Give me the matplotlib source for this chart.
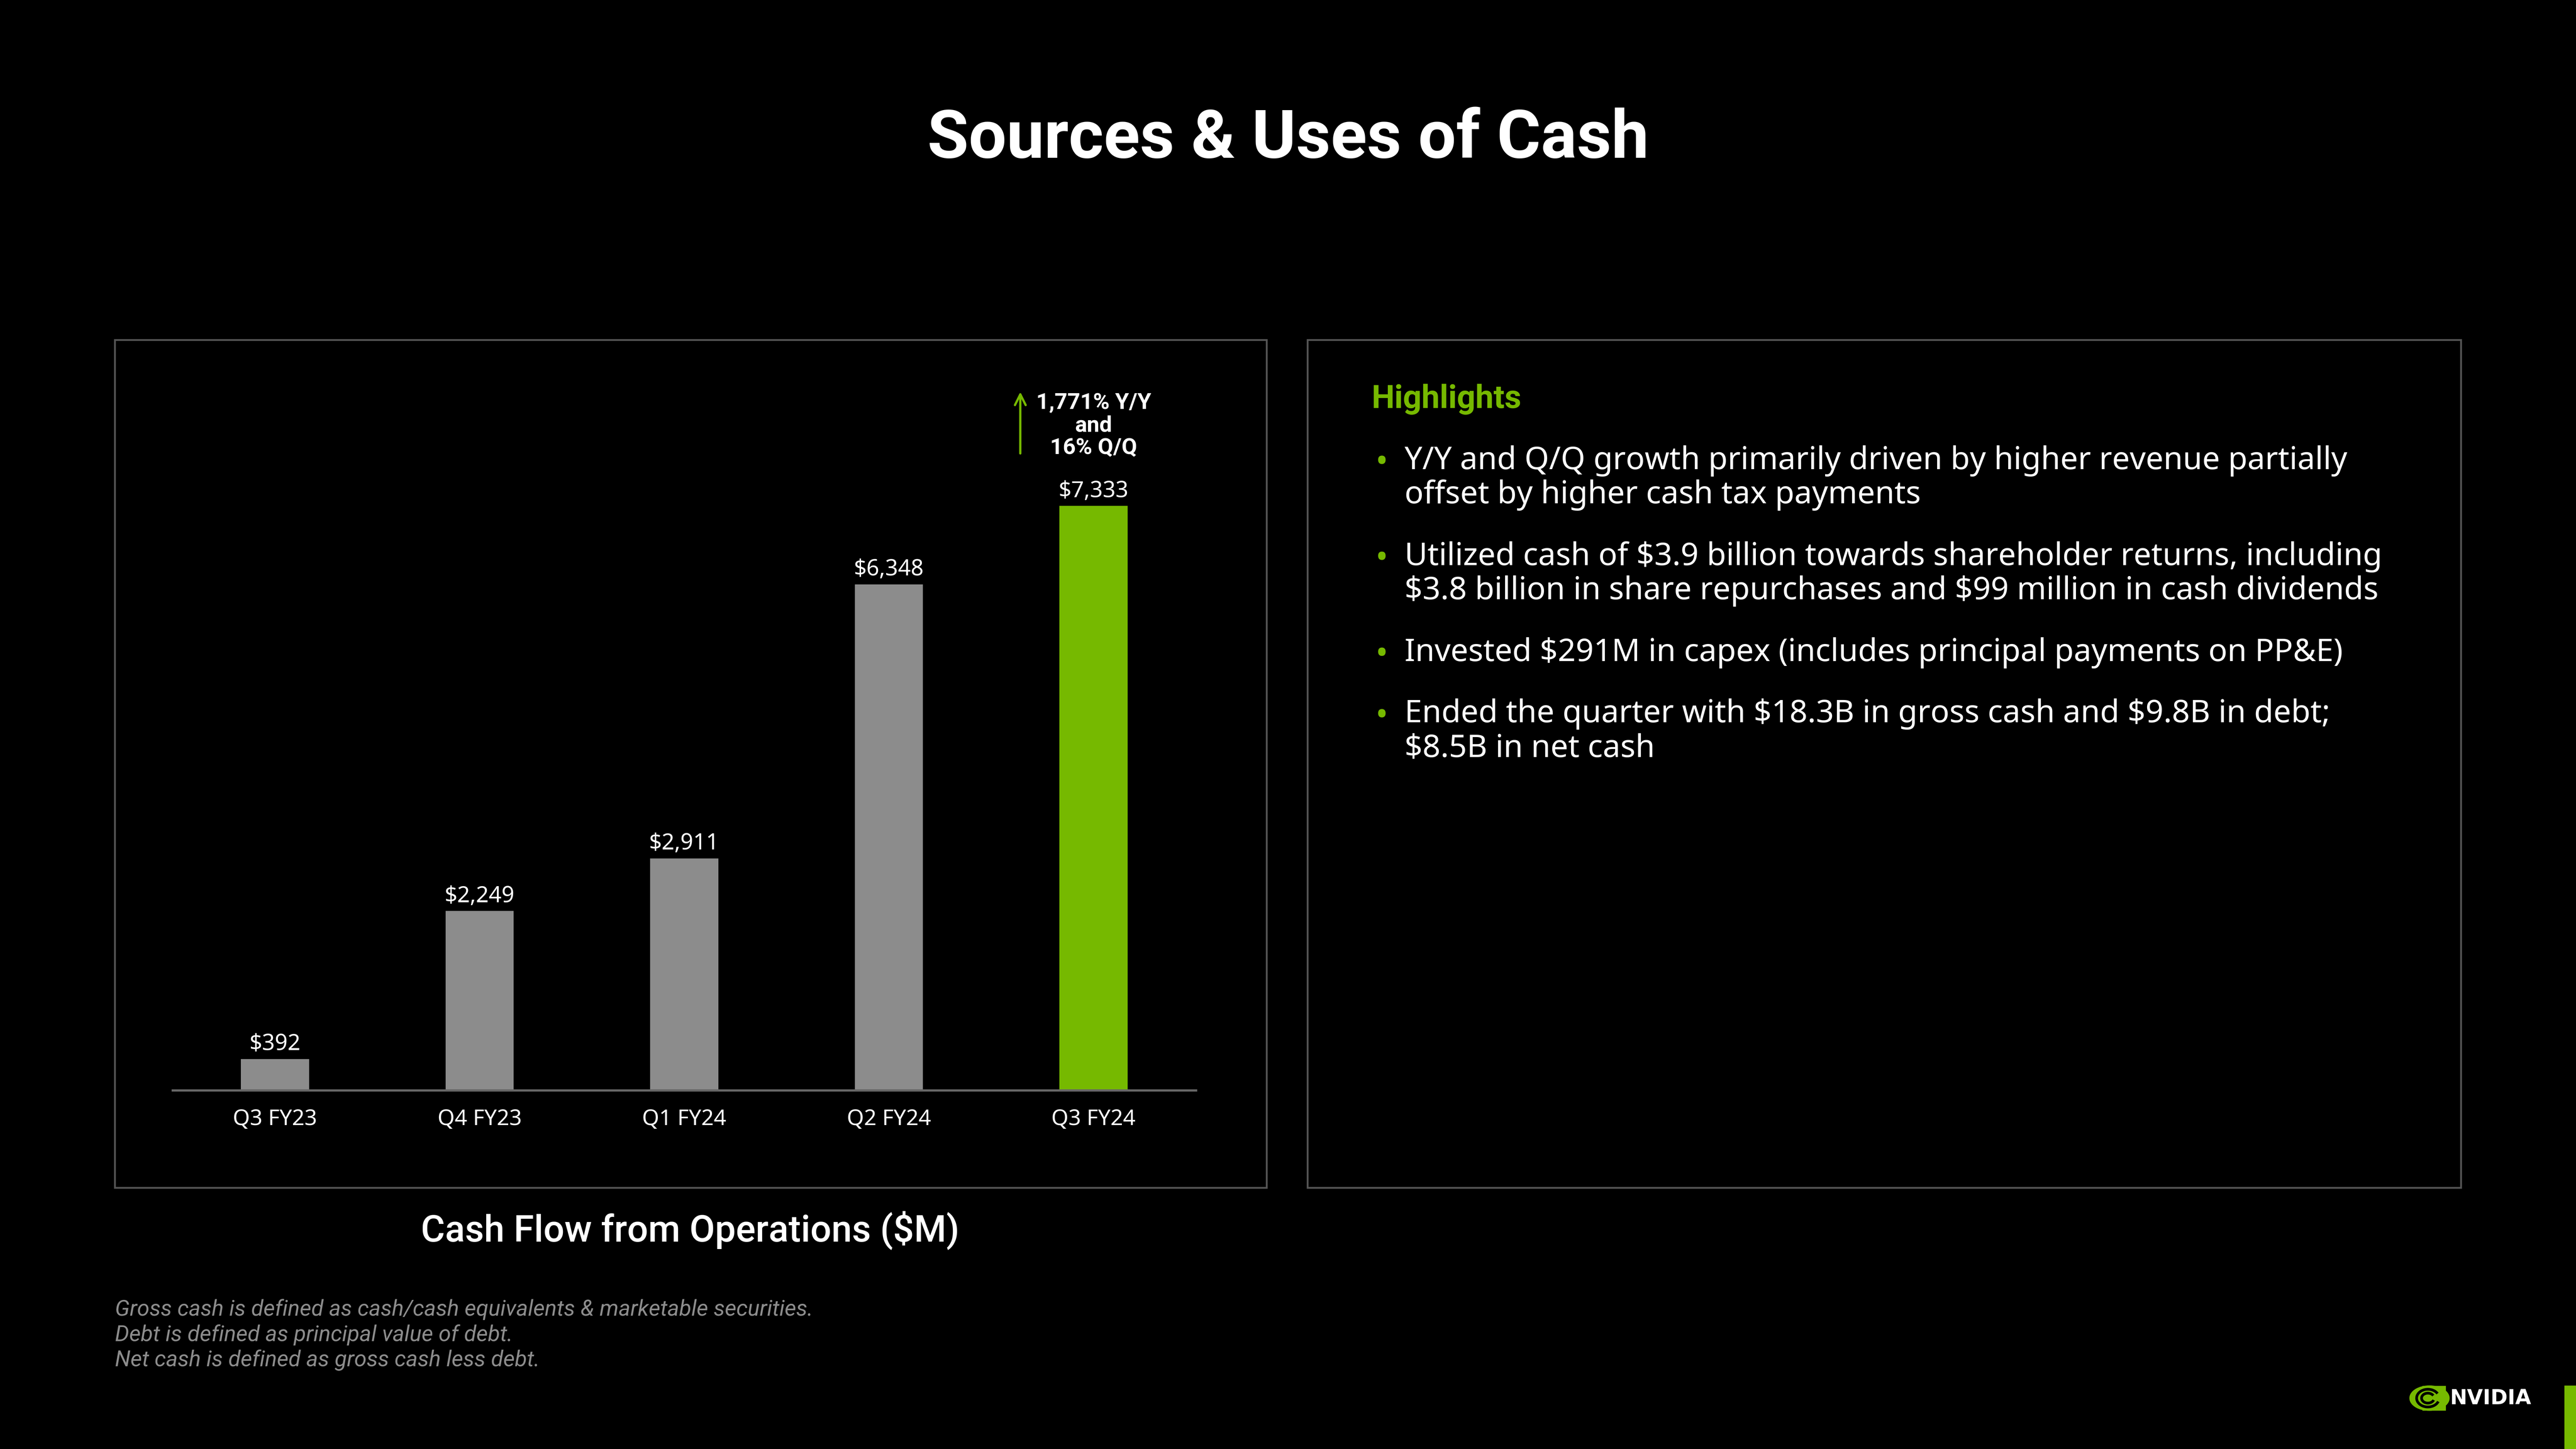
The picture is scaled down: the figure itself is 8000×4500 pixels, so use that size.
import matplotlib.pyplot as plt
from matplotlib.patches import Rectangle, Ellipse, Arc

# Chart data
quarters = ["Q3 FY23", "Q4 FY23", "Q1 FY24", "Q2 FY24", "Q3 FY24"]
cash_flow = [392, 2249, 2911, 6348, 7333]
bar_labels = ["$392", "$2,249", "$2,911", "$6,348", "$7,333"]
growth_note = "1,771% Y/Y\nand\n16% Q/Q"

highlights = [
    ["Y/Y and Q/Q growth primarily driven by higher revenue partially",
     "offset by higher cash tax payments"],
    ["Utilized cash of $3.9 billion towards shareholder returns, including",
     "$3.8 billion in share repurchases and $99 million in cash dividends"],
    ["Invested $291M in capex (includes principal payments on PP&E)"],
    ["Ended the quarter with $18.3B in gross cash and $9.8B in debt;",
     "$8.5B in net cash"],
]
footnotes = [
    "Gross cash is defined as cash/cash equivalents & marketable securities.",
    "Debt is defined as principal value of debt.",
    "Net cash is defined as gross cash less debt.",
]

GREEN = "#76b900"
GREY = "#8c8c8c"
W, H = 8000, 4500
BODY = ["Noto Sans", "DejaVu Sans"]

plt.rcParams["font.family"] = ["Roboto", "DejaVu Sans"]
plt.rcParams["text.parse_math"] = False

fig = plt.figure(figsize=(16, 9), dpi=500, facecolor="black")


def fx(x):
    return x / W


def fy(y):
    return 1 - y / H


# panel frames
for x0, x1 in [(357, 3934), (4061, 7643)]:
    fig.patches.append(Rectangle((fx(x0), fy(3689)), fx(x1 - x0), (3689 - 1056) / H,
                                 transform=fig.transFigure, fill=False,
                                 edgecolor="#555555", linewidth=0.8))

# title
fig.text(0.5, fy(433), "Sources & Uses of Cash", ha="center", va="center",
         color="white", fontsize=30, fontweight="bold")

# bar chart
ax = fig.add_axes([fx(536), fy(3386), fx(3714 - 536), 9000 * 0.2475 / H])
ax.set_facecolor("black")
colors = [GREY] * (len(quarters) - 1) + [GREEN]
x = range(len(quarters))
ax.bar(x, cash_flow, width=0.333, color=colors)
ax.set_xlim(-0.5, 4.5)
ax.set_ylim(0, 9000)
for i, (v, lab) in enumerate(zip(cash_flow, bar_labels)):
    ax.annotate(lab, (i, v), xytext=(0, 1.5), textcoords="offset points",
                ha="center", va="bottom", color="white", fontsize=10, family=BODY)
ax.set_xticks(list(x))
ax.set_xticklabels(quarters, color="white", fontsize=9.8, family=BODY)
ax.tick_params(axis="x", length=0, pad=8)
ax.set_yticks([])
for s in ["top", "left", "right"]:
    ax.spines[s].set_visible(False)
ax.spines["bottom"].set_color("#666666")
ax.spines["bottom"].set_linewidth(1.0)

# growth callout on last bar
last = len(quarters) - 1
ax.annotate("", xy=(last - 0.358, 8820), xytext=(last - 0.358, 7935),
            arrowprops=dict(arrowstyle="->", color=GREEN, lw=1.0, mutation_scale=12),
            annotation_clip=False)
ax.text(last, 8339, growth_note, ha="center", va="center", color="white",
        fontsize=10, fontweight="bold", linespacing=1.1, clip_on=False)

fig.text(fx(2143), fy(3821), "Cash Flow from Operations ($M)", ha="center", va="center",
         color="white", fontsize=16.5, fontweight="medium")

# highlights panel
fig.text(fx(4260), fy(1240), "Highlights", ha="left", va="center",
         color=GREEN, fontsize=14.5, fontweight="bold")
y = 1431
for item in highlights:
    fig.text(fx(4272), fy(y + 8), "\u2022", ha="left", va="center", color=GREEN,
             fontsize=15, family=BODY)
    for k, line in enumerate(item):
        fig.text(fx(4362), fy(y + k * 107), line, ha="left", va="center",
                 color="white", fontsize=14.05, family=BODY)
    y += len(item) * 107 + 84

# footnotes
for k, line in enumerate(footnotes):
    fig.text(fx(357), fy(4066 + k * 79), line, ha="left", va="center",
             color=GREY, fontsize=10, style="italic")

# logo (rough)
eye = Ellipse((fx(7545), fy(4342)), fx(118), 72 / H, transform=fig.transFigure,
              color=GREEN)
fig.patches.append(eye)
fig.patches.append(Rectangle((fx(7526), fy(4377)), fx(66), 70 / H,
                             transform=fig.transFigure, color=GREEN))
for r in [50, 28]:
    fig.patches.append(Arc((fx(7540), fy(4342)), fx(r * 1.4), r / H * 1.1,
                           theta1=40, theta2=330, transform=fig.transFigure,
                           color="black", linewidth=1.2))
fig.text(fx(7608), fy(4343), "NVIDIA", ha="left", va="center", color="white",
         fontsize=9.2, fontweight="bold", family="DejaVu Sans")
fig.patches.append(Rectangle((fx(7967), 0), fx(33), (H - 4306) / H,
                             transform=fig.transFigure, color=GREEN))

fig.savefig("out.png", dpi=500, facecolor="black")
